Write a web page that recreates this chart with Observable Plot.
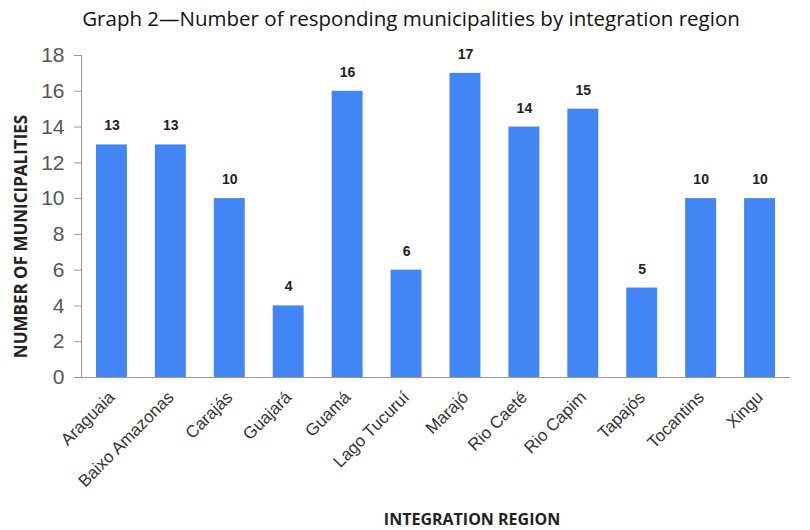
<!DOCTYPE html>
<html>
<head>
<meta charset="utf-8">
<script src="https://cdn.jsdelivr.net/npm/d3@7"></script>
<script src="https://cdn.jsdelivr.net/npm/@observablehq/plot@0.6"></script>
<style>
  body { margin: 0; background: #fff; }
  #title { height: 34px; line-height: 36px; text-align: center; font-family: "Open Sans", sans-serif; font-size: 20.5px; color: #111; width: 822px; white-space: nowrap; }
</style>
</head>
<body>
<div id="title">Graph 2—Number of responding municipalities by integration region</div>
<div id="chart"></div>
<script>
const regions = ["Araguaia", "Baixo Amazonas", "Carajás", "Guajará", "Guamá", "Lago Tucuruí", "Marajó", "Rio Caeté", "Rio Capim", "Tapajós", "Tocantins", "Xingu"];
const counts = [13, 13, 10, 4, 16, 6, 17, 14, 15, 5, 10, 10];
const yTicks = [0, 2, 4, 6, 8, 10, 12, 14, 16, 18];

const data = regions.map((r, i) => ({region: r, count: counts[i]}));

const chart = Plot.plot({
  width: 810,
  height: 496,
  marginTop: 21,
  marginBottom: 153,
  marginLeft: 81,
  marginRight: 20,
  style: {fontFamily: "'Liberation Sans', Arial, sans-serif", background: "#fff"},
  x: {domain: regions, paddingInner: 0.475, paddingOuter: 0.254, round: false, label: null},
  y: {domain: [0, 18], label: null},
  marks: [
    Plot.barY(data, {x: "region", y: "count", fill: "#4285f4"}),
    Plot.frame({anchor: "left", stroke: "#999"}),
    Plot.ruleY([0], {stroke: "#999"}),
    Plot.axisY({ticks: yTicks, tickSize: 7, tickPadding: 10, fontSize: 21, fill: "#555", stroke: "#999", label: null, tickFormat: d => d}),
    Plot.axisX({tickSize: 0, tickRotate: -45, fontSize: 17, fill: "#333", tickPadding: 17, label: null}),
    Plot.text(data, {x: "region", y: "count", text: d => String(d.count), dy: -19, fontWeight: "bold", fontSize: 14, fill: "#222"}),
    Plot.text(["INTEGRATION REGION"], {frameAnchor: "bottom", dx: 36, dy: 147, fontFamily: "'Open Sans', sans-serif", fontWeight: "bold", fontSize: 16, fill: "#222"}),
    Plot.text(["NUMBER OF MUNICIPALITIES"], {frameAnchor: "left", textAnchor: "middle", rotate: -90, dx: -60, dy: 20, fontFamily: "'Open Sans', sans-serif", fontWeight: "bold", fontSize: 17, fill: "#222"})
  ]
});
document.getElementById("chart").appendChild(chart);
</script>
</body>
</html>
